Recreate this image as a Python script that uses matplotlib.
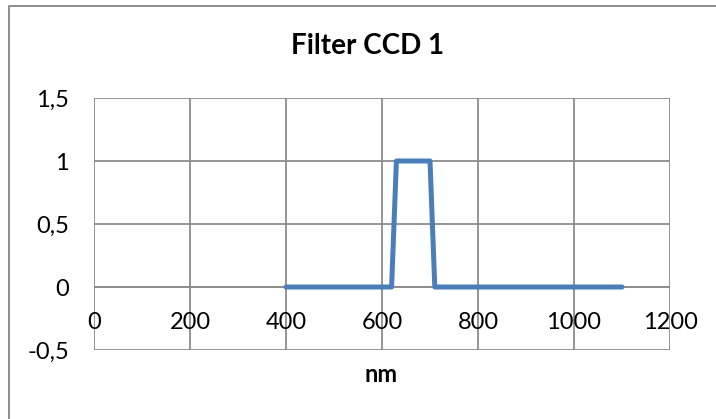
import matplotlib
matplotlib.use('Agg')
import matplotlib.pyplot as plt
from matplotlib.lines import Line2D

wavelength = [400, 500, 600, 620, 630, 650, 700, 710, 800, 900, 1000, 1100]
transmission = [0, 0, 0, 0, 1, 1, 1, 0, 0, 0, 0, 0]

x_ticks = [0, 200, 400, 600, 800, 1000, 1200]
y_ticks = [-0.5, 0, 0.5, 1, 1.5]
y_labels = ['-0,5', '0', '0,5', '1', '1,5']

plt.rcParams['font.family'] = ['Lato', 'DejaVu Sans']

W, H = 716, 419
fig = plt.figure(figsize=(W / 100, H / 100), dpi=100)
# 外框 (只有左边和上边在图里)
fig.lines.append(Line2D([9 / W, 9 / W, 1.0], [0.0, 1 - 6 / H, 1 - 6 / H],
                        transform=fig.transFigure, color='#8c8c8c', linewidth=1.4))

ax = fig.add_axes([94 / W, 1 - 350 / H, 576 / W, 252 / H])
ax.plot(wavelength, transmission, color='#4a7ebb', linewidth=3.6,
        solid_capstyle='round', solid_joinstyle='round', zorder=3)

ax.set_xlim(0, 1200)
ax.set_ylim(-0.5, 1.5)
ax.set_xticks(x_ticks)
ax.set_yticks(y_ticks)
ax.set_yticklabels(y_labels)
ax.grid(True, color='#8c8c8c', linewidth=1.3)
for s in ax.spines.values():
    s.set_visible(False)
ax.tick_params(length=0, labelsize=17, colors='black')
ax.tick_params(axis='y', pad=18)
ax.axhline(0, color='#8c8c8c', linewidth=1.3, zorder=2)

# x 轴刻度标签放在 y=0 下方
ax.set_xticklabels([])
for xt in x_ticks:
    ax.text(xt, -0.28, str(xt), ha='center', va='center', fontsize=17)

fig.text(368 / W, 1 - 46 / H, 'Filter CCD 1', ha='center', va='center',
         fontsize=20, fontweight='bold')
fig.text(381 / W, 1 - 374 / H, 'nm', ha='center', va='center',
         fontsize=17, fontweight='bold')

fig.savefig('out.png', dpi=100)
